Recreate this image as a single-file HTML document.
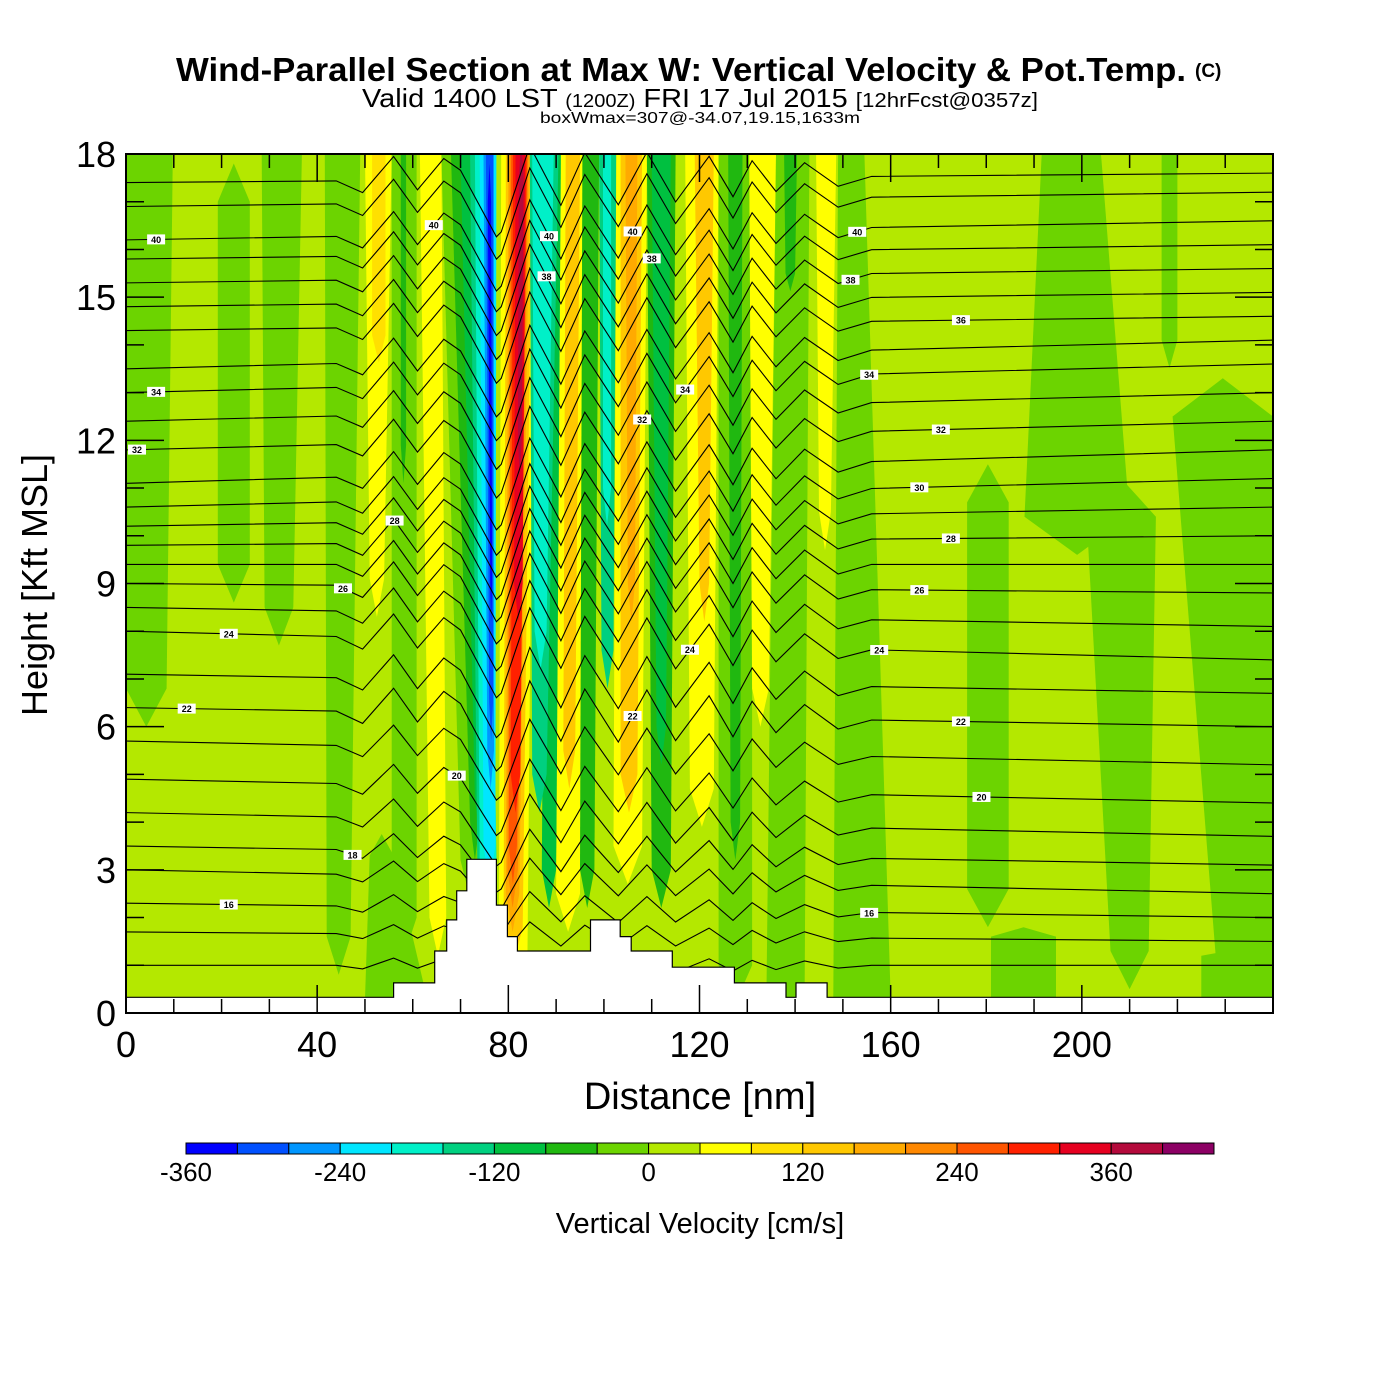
<!DOCTYPE html>
<html><head><meta charset="utf-8"><title>Wind-Parallel Section</title>
<style>html,body{margin:0;padding:0;background:#fff;}svg{display:block;font-family:"Liberation Sans",Arial,sans-serif;}</style>
</head><body>
<svg id="chart" xmlns="http://www.w3.org/2000/svg" width="1400" height="1400" viewBox="0 0 1400 1400">
<rect x="0" y="0" width="1400" height="1400" fill="#fff"/>
<defs><clipPath id="plotclip"><rect x="126" y="154" width="1147" height="859"/></clipPath></defs>
<g id="title-block">
<text x="176" y="81" font-size="33" font-weight="bold" textLength="1010" lengthAdjust="spacingAndGlyphs">Wind-Parallel Section at Max W: Vertical Velocity &amp; Pot.Temp.</text>
<text x="1195" y="77" font-size="19" font-weight="bold">(C)</text>
<text x="362" y="107" font-size="26" textLength="676" lengthAdjust="spacingAndGlyphs">Valid 1400 LST <tspan font-size="18">(1200Z)</tspan> FRI 17 Jul 2015 <tspan font-size="20">[12hrFcst@0357z]</tspan></text>
<text x="540" y="123" font-size="16" textLength="320" lengthAdjust="spacingAndGlyphs">boxWmax=307@-34.07,19.15,1633m</text>
</g>
<g id="field" clip-path="url(#plotclip)"></g>
<g id="isentropes" clip-path="url(#plotclip)"></g>
<g id="terrain"></g>
<g id="labels" clip-path="url(#plotclip)"></g>
<g id="axes"></g>
<g id="colorbar"></g>
<text x="700" y="1109" font-size="38" text-anchor="middle">Distance [nm]</text>
<text x="0" y="0" font-size="36" text-anchor="middle" transform="translate(47,585) rotate(-90)">Height [Kft MSL]</text>
<text x="700" y="1233" font-size="29" text-anchor="middle">Vertical Velocity [cm/s]</text>
</svg>
<script>
// ---- data ----
var xTicks = [0, 40, 80, 120, 160, 200];
var yTicks = [0, 3, 6, 9, 12, 15, 18];
var cbTicks = [-360, -240, -120, 0, 120, 240, 360];
var cbEdges = [-360,-320,-280,-240,-200,-160,-120,-80,-40,0,40,80,120,160,200,240,280,320,360,400,440];
var cbColors = ["#0000ff","#0050ff","#0096ff","#00e6ff","#00f0c8","#00d080","#00c040","#20b810","#6cd400","#b4e800","#ffff00","#ffe000","#ffc800","#ffaa00","#ff8800","#ff5500","#ff2000","#e60020","#b40a3c","#8c0064"];
var backgroundW = 20;
// stripes of vertical velocity (nm edges at bottom/top, kft extents, value cm/s)
var sXb0 = [0,19.2,29,42,50,51,51.5,55.6,57.5,63.5,70,72,73,73.5,74,74.8,75.6,76,76.2,78,79,79.5,79.8,80.1,80.5,81.2,82,87,85,85.5,90,91.5,95,99.5,99.8,102,103.5,105,110,111,118,120,124,126.5,131,134,138,145,148,176,188,206,216.7,228,181,225];
var sXb1 = [8.5,25.9,35,47,63,54,54.3,60.8,58.6,67,74,74,75,77.5,77.5,77.3,77,76.8,76.6,84,83,82.3,82,81.8,82.5,83,82.8,90,88,88,95,94,98,102,101.5,108,107,106.5,114,113,123,122,131,128.5,134.5,142,140,147.5,160,184.7,210,214,220,240,194.6,240];
var sXt0 = [0,19.2,28.4,41.6,51,50,51.5,55.6,57.5,61.5,66,68,70,72,73,74,74.8,75.3,75.7,78.5,79.5,80,80.3,80.6,81,81.5,82.2,88,84.5,85,91,92,95.5,99,99.8,102.6,103.5,104.5,109,110,117,119,124,126,130.4,136,137.7,144.4,149,176,191.6,201,216.7,219,181,225];
var sXt1 = [9.8,25.9,36.8,49,56,55.6,54.3,60.8,58.6,66,72,73,74.5,75,75.5,77.5,77,76.8,76.4,85.5,85,84.5,84.2,84,83.8,83.5,83.2,92,90.5,89.5,96,95,99,102.6,101.5,109,108,107,115,114,124,123,131,129,136,143,140.4,148.6,154.5,184.7,204,215.5,220,240,194.6,240];
var sYb = [6.8,9.4,8.5,1.6,0.3,9.1,14.2,2,11.9,2,3.2,4,4.5,3.2,3.2,3.5,5.5,6.5,9,1.3,1.8,2.5,3,3.5,5,9,12,3,5,8,2.5,5.5,3,7.6,11,3.5,5,9,3,6,4.7,9,1,4,6.8,0.3,15.5,10.5,0.3,2.6,10.4,1.3,14.1,1.2,0.3,0.3];
var sYt = [18,17,18,18,3.3,18,18,18,18,18,18,18,18,18,18,18,18,18,17,18,18,18,18,18,18,18,17.5,18,18,18,18,18,18,18,18,18,18,18,18,18,18,18,18,18,18,18,18,18,18,10.7,18,10.4,18,12.5,1.6,1.2];
var sVal = [-20,-20,-20,-20,-20,60,100,-20,-60,60,-20,-60,-100,-140,-180,-220,-260,-300,-340,60,140,180,220,260,300,340,380,-100,-140,-180,60,140,-60,-140,-180,60,140,180,-60,-100,60,140,-20,-60,60,-20,-60,60,-20,-20,-20,-20,-20,-20,-20,-20];
// potential temperature isentropes
var thetaLevels = [42,41,40,39,38,37,36,35,34,33,32,31,30,29,28,27,26,25,24,23,22,21,20,19,18,17,16,15,14];
var thetaLeftH = [17.4,16.9,16.2,15.8,15.3,14.8,14.3,13.5,13.0,12.4,11.8,11.1,10.6,10.2,9.8,9.4,9.0,8.5,8.0,7.1,6.4,5.7,4.9,4.2,3.5,3.0,2.3,1.7,1.0];
var thetaRightH = [17.6,17.2,16.6,16.1,15.6,15.1,14.6,14.1,13.6,13.0,12.4,11.8,11.2,10.6,10.0,9.4,8.8,8.1,7.4,6.7,6.0,5.2,4.4,3.7,3.1,2.5,2.0,1.5,1.0];
var thetaAmp = [1,1,1,1,1,1,1,1,1,1,1,1,1,1,1,1,1,1,1,1,1,0.9,0.85,0.8,0.7,0.6,0.5,0.4,0.3];
var dispX = [0,44,49.5,56,61,66.5,70,77.5,78.5,84.5,91,96,103,109,115,122,127,131,136,142,149,156,240];
var dispY = [0,0,-0.25,0.5,-0.2,0.45,0.2,-1.2,-1.1,0.7,-0.55,0.55,-0.55,0.55,-0.5,0.45,-0.4,0.35,-0.3,0.3,-0.2,0,0];
var labX = [6.3,6.3,2.3,21.5,12.7,21.5,47.4,69.2,45.4,56.2,64.4,88.5,106,110,88,108,117,118,106,153,151.6,174.7,155.5,170.5,166,172.6,166,157.6,174.7,179,155.5];
var labLev = [40,34,32,24,22,16,18,20,26,28,40,40,40,38,38,32,34,24,22,40,38,36,34,32,30,28,26,24,22,20,16];
// terrain profile (nm breakpoints, kft)
var terrX = [0,56,56,64.6,64.6,67.1,67.1,69.2,69.2,71.3,71.3,77.5,77.5,79.8,79.8,81.9,81.9,97.2,97.2,103.4,103.4,105.7,105.7,114.3,114.3,127.3,127.3,138.1,138.1,140.2,140.2,146.7,146.7,240];
var terrH = [0.33,0.33,0.63,0.63,1.3,1.3,1.95,1.95,2.56,2.56,3.22,3.22,2.26,2.26,1.6,1.6,1.3,1.3,1.95,1.95,1.6,1.6,1.3,1.3,0.96,0.96,0.63,0.63,0.33,0.33,0.63,0.63,0.33,0.33];

// ---- scales ----
var NS = "http://www.w3.org/2000/svg";
function X(nm){ return 126 + nm * (1147/240); }
function Y(k){ return 1013 - k * (859/18); }
function colorOf(v){ var i = Math.floor((v + 360) / 40); if(i<0)i=0; if(i>19)i=19; return cbColors[i]; }
function mk(tag, attrs, parent){ var e=document.createElementNS(NS,tag); for(var k in attrs) e.setAttribute(k, attrs[k]); parent.appendChild(e); return e; }

// ---- field ----
var field = document.getElementById('field');
var bg = mk('rect', {x:126,y:154,width:1147,height:859,fill:colorOf(backgroundW)}, field);


for (var i=0;i<sVal.length;i++){
  var t = Math.min(0.8, (sYt[i]-sYb[i])*0.15);
  var pts = [];
  pts.push([sXb0[i], sYb[i]]);
  if (sYb[i] > 0.5) pts.push([(sXb0[i]+sXb1[i])/2, sYb[i]-t]);
  pts.push([sXb1[i], sYb[i]]);
  pts.push([sXt1[i], sYt[i]]);
  if (sYt[i] < 17.9) pts.push([(sXt0[i]+sXt1[i])/2, sYt[i]+t]);
  pts.push([sXt0[i], sYt[i]]);
  var p = mk('polygon', {points: pts.map(function(q){return X(q[0]).toFixed(1)+','+Y(q[1]).toFixed(1);}).join(' '), fill: colorOf(sVal[i])}, field);
  
  
}

// ---- isentropes ----
var iso = document.getElementById('isentropes');
function thetaH(li, x){
  var d = 0;
  for (var j=0;j<dispX.length-1;j++){ if (x>=dispX[j] && x<=dispX[j+1]){ d = dispY[j] + (dispY[j+1]-dispY[j])*(x-dispX[j])/(dispX[j+1]-dispX[j]); break; } }
  return thetaLeftH[li] + (thetaRightH[li]-thetaLeftH[li])*x/240 + thetaAmp[li]*d;
}
for (var li=0; li<thetaLevels.length; li++){
  var dstr = '';
  for (var j=0;j<dispX.length;j++){ dstr += (j?'L':'M') + X(dispX[j]).toFixed(1) + ',' + Y(thetaH(li, dispX[j])).toFixed(1); }
  var pl = mk('path', {d:dstr, fill:'none', stroke:'#000', 'stroke-width':1.1}, iso);
  
  
}

// ---- terrain ----
var ter = document.getElementById('terrain');
var tp = 'M' + X(0) + ',' + Y(0);
for (var j=0;j<terrX.length;j++) tp += 'L' + X(terrX[j]).toFixed(1) + ',' + Y(terrH[j]).toFixed(1);
tp += 'L' + X(240) + ',' + Y(0) + 'Z';
var tpath = mk('path', {d:tp, fill:'#fff', stroke:'#000', 'stroke-width':1.2}, ter);



// ---- contour labels ----
var labs = document.getElementById('labels');
for (var j=0;j<labX.length;j++){
  var li = thetaLevels.indexOf(labLev[j]);
  if (li < 0) continue;
  var cx = X(labX[j]), cy = Y(thetaH(li, labX[j]));
  var g = mk('g', {}, labs);
  
  
  mk('rect', {x:cx-9, y:cy-5, width:18, height:10, fill:'#fff'}, g);
  var tx = mk('text', {x:cx, y:cy+3.5, 'font-size':9, 'font-weight':'bold', 'text-anchor':'middle'}, g);
  tx.textContent = labLev[j];
}

// ---- axes ----
var ax = document.getElementById('axes');
var frame = mk('rect', {x:126,y:154,width:1147,height:859,fill:'none',stroke:'#000','stroke-width':2}, ax);


var tk = '';
for (var v=0; v<=240; v+=10){
  var major = (v % 40 === 0), L = major ? 28 : 14, x = X(v);
  tk += 'M'+x+',1013V'+(1013-L)+'M'+x+',154V'+(154+L);
}
for (var v=0; v<=18; v+=1){
  var major = (v % 3 === 0), L = major ? 38 : 18, y = Y(v);
  tk += 'M126,'+y+'H'+(126+L)+'M1273,'+y+'H'+(1273-L);
}
var ticks = mk('path', {d:tk, stroke:'#000', 'stroke-width':1.5, fill:'none'}, ax);


for (var j=0;j<xTicks.length;j++){
  var t = mk('text', {x:X(xTicks[j]), y:1057, 'font-size':36, 'text-anchor':'middle'}, ax);
  
  
  t.textContent = xTicks[j];
}
for (var j=0;j<yTicks.length;j++){
  var t = mk('text', {x:116, y:Y(yTicks[j])+13, 'font-size':36, 'text-anchor':'end'}, ax);
  
  
  t.textContent = yTicks[j];
}

// ---- colorbar ----
var cb = document.getElementById('colorbar');
var cbx0 = 186, cbw = 1028/20;
function CB(v){ return cbx0 + (v - cbEdges[0]) / 40 * cbw; }
for (var j=0;j<cbColors.length;j++){
  var r = mk('rect', {x:CB(cbEdges[j]), y:1143, width:cbw, height:11, fill:cbColors[j], stroke:'#000', 'stroke-width':1}, cb);
  
  
}
for (var j=0;j<cbTicks.length;j++){
  var t = mk('text', {x:CB(cbTicks[j]), y:1181, 'font-size':26, 'text-anchor':'middle'}, cb);
  
  
  t.textContent = cbTicks[j];
}
</script>
</body></html>
